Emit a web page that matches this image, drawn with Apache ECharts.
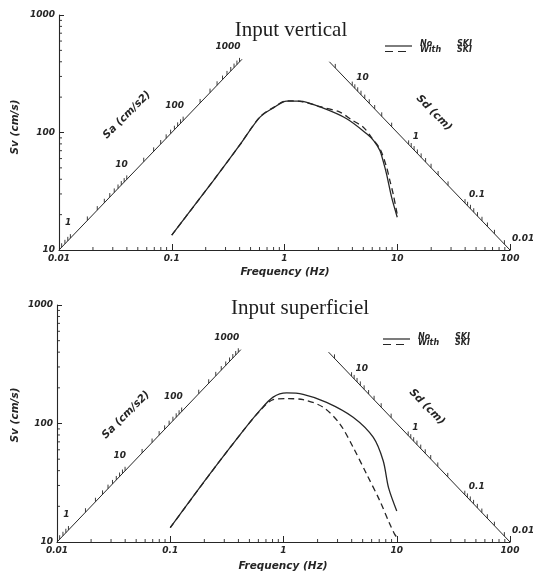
<!DOCTYPE html>
<html>
<head>
<meta charset="utf-8">
<script src="https://cdn.jsdelivr.net/npm/echarts@6/dist/echarts.min.js"></script>
<style>
  html, body { margin: 0; padding: 0; background: #ffffff; }
  #chart { width: 533px; height: 571px; }
</style>
</head>
<body>
<div id="chart"></div>
<script>
// ---- axis ticks ----
const freqTicks = [0.01, 0.1, 1, 10, 100];
const svTicks = [10, 100, 1000];
const saLabelValues = [1, 10, 100, 1000];
const sdLabelValues = [10, 1, 0.1, 0.01];

// ---- Input vertical: pseudo-velocity spectra ----
const vertNoFreq   = [0.1, 0.234, 0.4, 0.606, 0.795, 1.045, 1.37, 2.07, 3.56, 5.36, 6.2, 7.03, 7.5, 8.05, 8.92, 10];
const vertNoSv     = [13.4, 39, 78, 135, 162, 185, 185, 165, 131, 97.5, 85, 70, 57, 44, 28, 19];
const vertWithFreq = [0.1, 0.234, 0.4, 0.606, 0.795, 1.045, 1.37, 2.07, 3.1, 3.95, 5.0, 5.9, 7.03, 8.05, 8.6, 9.2, 10];
const vertWithSv   = [13.4, 39, 78, 136, 163, 186, 184, 166, 149, 128, 111, 91, 72.6, 50.5, 39, 30, 20];

// ---- Input superficiel ----
const supNoFreq   = [0.1, 0.224, 0.441, 0.619, 0.81, 1.065, 1.49, 2.4, 4.12, 6.19, 7.59, 8.46, 10];
const supNoSv     = [13.2, 37.5, 87, 129, 167, 181, 176, 151, 113, 76.6, 48.5, 28.8, 18.3];
const supWithFreq = [0.1, 0.224, 0.441, 0.619, 0.81, 1.065, 1.49, 2.24, 3.15, 4.12, 5.41, 7.1, 8.7, 9.6, 10];
const supWithSv   = [13.2, 37.5, 87, 128, 159, 162, 159, 137, 99, 63, 37.5, 22.2, 14.1, 11.6, 11];

// ---- tripartite guide axes (Sa along Sv = 1000 f, Sd along Sv = 1000 / f) ----
const saAxisFreq = [0.01, 0.42];
const saAxisSv   = [10, 420];
const sdAxisFreq = [2.5, 100];
const sdAxisSv   = [400, 10];

const INK = '#262626';
const NUM_FONT = 'italic bold 9px "DejaVu Sans"';
const NAME_FONT = 'italic bold 10.5px "DejaVu Sans"';

const zip = (xs, ys) => xs.map((x, i) => [x, ys[i]]);

function fmtNum(v) {
  if (v < 1) return v.toFixed(Math.round(-Math.log10(v)));
  return String(Math.round(v));
}

// Minor log ticks, diagonal-axis ticks and diagonal-axis labels
function buildGuides() {
  const s = [];
  const mult = [2, 3, 4, 5, 6, 7, 8, 9];
  [0.01, 0.1, 1, 10].forEach(d => mult.forEach(m => s.push({ kind: 'xminor', f: +(d * m).toPrecision(3), sv: 10 })));
  [10, 100].forEach(d => mult.forEach(m => s.push({ kind: 'yminor', f: 0.01, sv: d * m })));

  const saTicks = [0.7, 0.8, 0.9];
  [1, 10, 100].forEach(d => [1, 2, 3, 4, 5, 6, 7, 8, 9].forEach(m => saTicks.push(d * m)));
  saTicks.push(1000);
  saTicks.forEach(a => {
    const f = Math.sqrt(a / (2000 * Math.PI));
    s.push({ kind: 'vtick', f: f, sv: 1000 * f });
  });

  const sdTicks = [];
  [0.01, 0.1, 1].forEach(d => [1, 2, 3, 4, 5, 6, 7, 8, 9].forEach(m => sdTicks.push(+(d * m).toPrecision(3))));
  sdTicks.push(10, 20);
  sdTicks.forEach(d => {
    const f = Math.sqrt(1000 / (2 * Math.PI * d));
    if (f <= 100) s.push({ kind: 'vtick', f: f, sv: 1000 / f });
  });

  saLabelValues.forEach(a => {
    const f = Math.sqrt(a / (2000 * Math.PI));
    s.push({ kind: 'label', f: f, sv: 1000 * f, text: fmtNum(a), dx: 1, dy: -15, align: 'right' });
  });
  sdLabelValues.forEach(d => {
    const f = Math.min(100, Math.sqrt(1000 / (2 * Math.PI * d)));
    const end = f >= 100;
    s.push({ kind: 'label', f: f, sv: 1000 / f, text: fmtNum(d), dx: end ? 2 : 4, dy: end ? -11 : -8, align: 'left' });
  });
  return s;
}

const guides = buildGuides();

function renderGuide(params, api) {
  const g = guides[params.dataIndex];
  const p = api.coord([g.f, g.sv]);
  const stroke = { stroke: INK, lineWidth: 0.9 };
  if (g.kind === 'xminor') {
    return { type: 'line', shape: { x1: p[0], y1: p[1], x2: p[0], y2: p[1] - 3 }, style: stroke };
  }
  if (g.kind === 'yminor') {
    return { type: 'line', shape: { x1: p[0], y1: p[1], x2: p[0] + 3, y2: p[1] }, style: stroke };
  }
  if (g.kind === 'vtick') {
    return { type: 'line', shape: { x1: p[0], y1: p[1], x2: p[0], y2: p[1] - 4 }, style: stroke };
  }
  return {
    type: 'text', x: p[0] + g.dx, y: p[1] + g.dy,
    style: { text: g.text, font: NUM_FONT, fill: INK, align: g.align, verticalAlign: 'middle' }
  };
}

const grids = [
  { left: 59, top: 15, width: 451, height: 235 },
  { left: 57, top: 305, width: 453, height: 237 }
];

function xAxisFor(i) {
  return {
    type: 'log', logBase: 10, gridIndex: i, min: 0.01, max: 100,
    axisLine: { lineStyle: { color: INK, width: 1.1 } },
    axisTick: { inside: true, length: 6, lineStyle: { color: INK } },
    axisLabel: { margin: 4, color: INK, fontSize: 9, fontStyle: 'italic', fontWeight: 'bold',
                 fontFamily: 'DejaVu Sans', formatter: v => fmtNum(v) },
    splitLine: { show: false }, minorTick: { show: false }
  };
}
function yAxisFor(i) {
  return {
    type: 'log', logBase: 10, gridIndex: i, min: 10, max: 1000,
    axisLine: { lineStyle: { color: INK, width: 1.1 } },
    axisTick: { inside: true, length: 5, lineStyle: { color: INK } },
    axisLabel: { margin: 4, color: INK, fontSize: 9, fontStyle: 'italic', fontWeight: 'bold',
                 fontFamily: 'DejaVu Sans', formatter: v => fmtNum(v) },
    splitLine: { show: false }
  };
}

function curve(i, xs, ys, dashed) {
  return {
    type: 'line', xAxisIndex: i, yAxisIndex: i, data: zip(xs, ys),
    smooth: 0.3, symbol: 'none', silent: true,
    lineStyle: { color: INK, width: 1.3, type: dashed ? [6, 4] : 'solid' }
  };
}
function guideLine(i, xs, ys) {
  return {
    type: 'line', xAxisIndex: i, yAxisIndex: i, data: zip(xs, ys),
    symbol: 'none', silent: true, lineStyle: { color: INK, width: 1 }
  };
}
function guideMarks(i) {
  return {
    type: 'custom', xAxisIndex: i, yAxisIndex: i, clip: false, silent: true,
    data: guides.map((g, k) => [g.f, g.sv, k]),
    renderItem: renderGuide
  };
}

function panelText(cfg) {
  const els = [];
  els.push({ type: 'text', x: cfg.titleX, y: cfg.titleY,
    style: { text: cfg.title, font: '21px "Liberation Serif"', fill: '#1e1e1e', align: 'center', verticalAlign: 'middle' } });
  els.push({ type: 'text', x: 15, y: cfg.svY, rotation: Math.PI / 2,
    style: { text: 'Sv (cm/s)', font: NAME_FONT, fill: INK, align: 'center', verticalAlign: 'middle' } });
  els.push({ type: 'text', x: cfg.freqX, y: cfg.freqY,
    style: { text: 'Frequency (Hz)', font: NAME_FONT, fill: INK, align: 'center', verticalAlign: 'middle' } });
  els.push({ type: 'text', x: cfg.saX, y: cfg.saY, rotation: Math.PI / 4,
    style: { text: 'Sa (cm/s2)', font: NAME_FONT, fill: INK, align: 'center', verticalAlign: 'middle' } });
  els.push({ type: 'text', x: cfg.sdX, y: cfg.sdY, rotation: -Math.PI / 4,
    style: { text: 'Sd (cm)', font: NAME_FONT, fill: INK, align: 'center', verticalAlign: 'middle' } });
  // legend
  const lx = cfg.legX, ly = cfg.legY;
  els.push({ type: 'line', shape: { x1: lx, y1: ly, x2: lx + 27, y2: ly }, style: { stroke: INK, lineWidth: 1.2 } });
  els.push({ type: 'line', shape: { x1: lx, y1: ly + 5.5, x2: lx + 24, y2: ly + 5.5 },
    style: { stroke: INK, lineWidth: 1.2, lineDash: [8, 5] } });
  const lf = 'italic bold 8px "DejaVu Sans"';
  els.push({ type: 'text', x: lx + 35, y: ly - 2, style: { text: 'No', font: lf, fill: INK, verticalAlign: 'middle' } });
  els.push({ type: 'text', x: lx + 72, y: ly - 2, style: { text: 'SKI', font: lf, fill: INK, verticalAlign: 'middle' } });
  els.push({ type: 'text', x: lx + 35, y: ly + 4, style: { text: 'With', font: lf, fill: INK, verticalAlign: 'middle' } });
  els.push({ type: 'text', x: lx + 72, y: ly + 4, style: { text: 'SKI', font: lf, fill: INK, verticalAlign: 'middle' } });
  return els;
}

const chart = echarts.init(document.getElementById('chart'), null, { renderer: 'canvas' });
chart.setOption({
  animation: false,
  backgroundColor: '#ffffff',
  grid: grids,
  xAxis: [xAxisFor(0), xAxisFor(1)],
  yAxis: [yAxisFor(0), yAxisFor(1)],
  series: [
    curve(0, vertNoFreq, vertNoSv, false),
    curve(0, vertWithFreq, vertWithSv, true),
    guideLine(0, saAxisFreq, saAxisSv),
    guideLine(0, sdAxisFreq, sdAxisSv),
    guideMarks(0),
    curve(1, supNoFreq, supNoSv, false),
    curve(1, supWithFreq, supWithSv, true),
    guideLine(1, saAxisFreq, saAxisSv),
    guideLine(1, sdAxisFreq, sdAxisSv),
    guideMarks(1)
  ],
  graphic: { elements: [
    ...panelText({ title: 'Input vertical', titleX: 291, titleY: 30, svY: 127, freqX: 285, freqY: 272,
                   saX: 127, saY: 115, sdX: 434, sdY: 113, legX: 385, legY: 46 }),
    ...panelText({ title: 'Input superficiel', titleX: 300, titleY: 308, svY: 415, freqX: 283, freqY: 566,
                   saX: 126, saY: 415, sdX: 427, sdY: 407, legX: 383, legY: 339 })
  ] }
});
</script>
</body>
</html>
